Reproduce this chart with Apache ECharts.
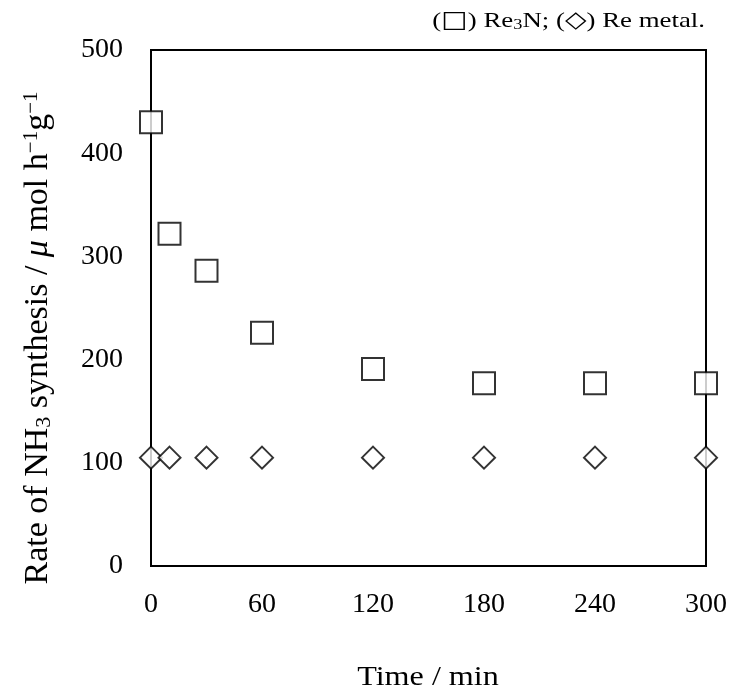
<!DOCTYPE html>
<html><head><meta charset="utf-8">
<script src="https://cdn.jsdelivr.net/npm/echarts@6/dist/echarts.min.js"></script>
<style>html,body{margin:0;padding:0;background:#fff}#c{width:730px;height:695px}</style>
</head><body><div id="c"></div>
<script>
const times = [0, 10, 30, 60, 120, 180, 240, 300];
const re3nRate = [430, 322, 286, 226, 191, 177, 177, 177];
const reMetalRate = [105, 105, 105, 105, 105, 105, 105, 105];
const xTicks = [0, 60, 120, 180, 240, 300];
const yTicks = [0, 100, 200, 300, 400, 500];
const legendText = '({sym|□}) Re{sub|3}N; ({sym|◇}) Re metal.';
const xName = 'Time / min';
const yName = 'Rate of NH{sub|3} synthesis / {i|μ} mol h{sup|−1}g{sup|−1}';

const FONT = "'Liberation Serif','Times New Roman',serif";
const chart = echarts.init(document.getElementById('c'), null, {renderer: 'canvas'});
chart.setOption({
  backgroundColor: '#fff',
  animation: false,
  graphic: [
    {
      type: 'text', x: 705, y: 21, scaleX: 1.22,
      style: {
        text: legendText, align: 'right', verticalAlign: 'middle',
        fontFamily: FONT, fontSize: 22, fill: '#000',
        rich: {
          sub: {fontFamily: FONT, fontSize: 15, fill: '#000', verticalAlign: 'bottom', padding: [7, 0, 0, 0]},
          sym: {fontFamily: "'DejaVu Sans',sans-serif", fontSize: 23, fill: '#000'}
        }
      }
    },
    {
      type: 'text', x: 428, y: 678, scaleX: 1.19,
      style: {text: xName, align: 'center', verticalAlign: 'middle', fontFamily: FONT, fontSize: 27, fill: '#000'}
    }
  ],
  grid: {left: 151, right: 24, top: 50, bottom: 129, show: true, borderColor: '#000', borderWidth: 2},
  xAxis: {
    type: 'value', min: xTicks[0], max: xTicks[xTicks.length - 1], interval: 60,
    axisLine: {show: true, lineStyle: {color: '#000', width: 2}},
    axisTick: {show: false}, splitLine: {show: false},
    axisLabel: {fontFamily: FONT, fontSize: 28, color: '#000', margin: 25,
      formatter: v => xTicks.includes(v) ? String(v) : ''}
  },
  yAxis: {
    type: 'value', min: yTicks[0], max: yTicks[yTicks.length - 1], interval: 100,
    name: yName,
    nameLocation: 'middle', nameGap: 96,
    nameTextStyle: {fontFamily: FONT, fontSize: 34, color: '#000', padding: [0, 60, 0, 0],
      rich: {
        sub: {fontFamily: FONT, fontSize: 22, color: '#000', verticalAlign: 'bottom'},
        sup: {fontFamily: FONT, fontSize: 21, color: '#000', verticalAlign: 'top'},
        i: {fontFamily: FONT, fontSize: 34, color: '#000', fontStyle: 'italic'}
      }},
    axisLine: {show: true, lineStyle: {color: '#000', width: 2}},
    axisTick: {show: false}, splitLine: {show: false},
    axisLabel: {fontFamily: FONT, fontSize: 28, color: '#000', margin: 28}
  },
  series: [
    {
      name: 'Re3N', type: 'scatter', clip: false, z: 5,
      symbol: 'rect', symbolSize: 22,
      itemStyle: {color: '#fff', borderColor: '#000', borderWidth: 2},
      data: times.map((t, i) => [t, re3nRate[i]])
    },
    {
      name: 'Re metal', type: 'scatter', clip: false, z: 5,
      symbol: 'diamond', symbolSize: [22, 22],
      itemStyle: {color: '#fff', borderColor: '#000', borderWidth: 2},
      data: times.map((t, i) => [t, reMetalRate[i]])
    }
  ]
});
</script></body></html>
